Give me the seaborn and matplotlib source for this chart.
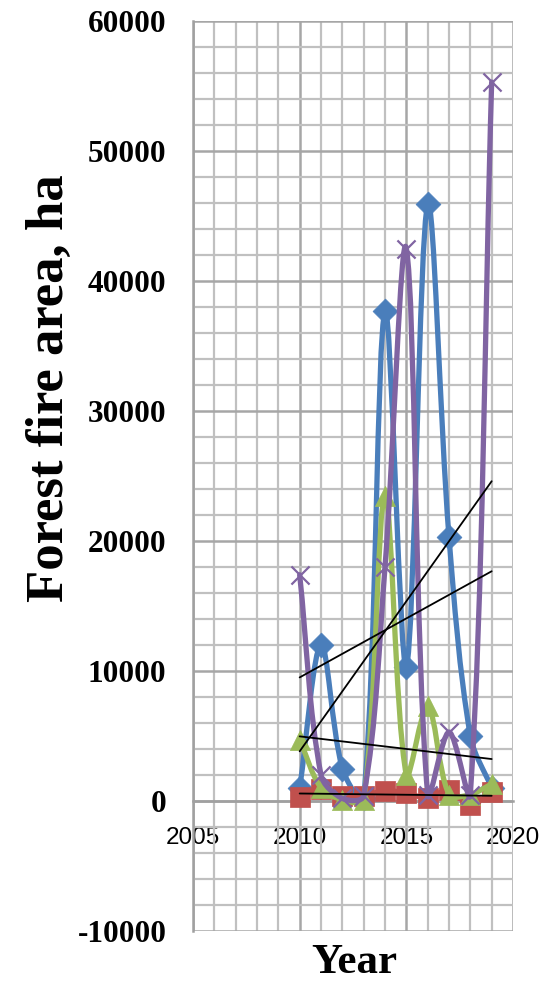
import numpy as np
import pandas as pd
import matplotlib
matplotlib.use("Agg")
import matplotlib.pyplot as plt
from matplotlib.path import Path
from matplotlib.patches import PathPatch
import seaborn as sns

years = [2010, 2011, 2012, 2013, 2014, 2015, 2016, 2017, 2018, 2019]
blue_vals = [1000, 12000, 2500, 200, 37700, 10300, 45900, 20300, 5000, 1000]
red_vals = [300, 900, 400, 400, 800, 600, 250, 850, -300, 700]
green_vals = [4700, 1000, 100, 100, 23500, 2000, 7300, 500, 500, 1300]
purple_vals = [17400, 2000, 200, 400, 18000, 42500, 500, 5300, 500, 55300]

x_ticks = [2005, 2010, 2015, 2020]
y_ticks = [-10000, 0, 10000, 20000, 30000, 40000, 50000, 60000]

series = [
    ("blue", blue_vals, "#4A7EBB", "D", 160),
    ("red", red_vals, "#C0504D", "s", 210),
    ("green", green_vals, "#9BBB59", "^", 210),
    ("purple", purple_vals, "#8064A2", "x", 170),
]

df = pd.DataFrame({"year": years * 4,
                   "value": blue_vals + red_vals + green_vals + purple_vals,
                   "series": sum([[s[0]] * len(years) for s in series], [])})

sns.set_style("white")
plt.rcParams["axes.unicode_minus"] = False
plt.rcParams["text.color"] = "black"
fig = plt.figure(figsize=(5.43, 9.82), dpi=100)
ax = fig.add_axes([193 / 543, 1 - 931 / 982, 320 / 543, 910 / 982])

# pixel scale of the axes (for Excel-like smoothing weights)
SX = 320 / 15.0
SY = 910 / 70000.0


def smooth_path(xs, ys):
    xs = np.asarray(xs, float)
    ys = np.asarray(ys, float)
    n = len(xs)
    pts = [np.array([xs[i], ys[i]]) for i in range(n)]

    def d(a, b):
        return np.hypot((a[0] - b[0]) * SX, (a[1] - b[1]) * SY)

    verts = [tuple(pts[0])]
    codes = [Path.MOVETO]
    for i in range(n - 1):
        p0 = pts[max(i - 1, 0)]
        p1 = pts[i]
        p2 = pts[i + 1]
        p3 = pts[min(i + 2, n - 1)]
        d01, d12, d23 = d(p0, p1), d(p1, p2), d(p2, p3)
        f1 = d12 / (d01 + d12) / 3.0 if (d01 + d12) > 0 else 0
        f2 = d12 / (d12 + d23) / 3.0 if (d12 + d23) > 0 else 0
        c1 = p1 + (p2 - p0) * f1
        c2 = p2 - (p3 - p1) * f2
        verts += [tuple(c1), tuple(c2), tuple(p2)]
        codes += [Path.CURVE4] * 3
    return Path(verts, codes)


z = 3
for name, vals, color, marker, size in series:
    patch = PathPatch(smooth_path(years, vals), facecolor="none", edgecolor=color,
                      lw=3.8, zorder=z, capstyle="round", joinstyle="round")
    ax.add_patch(patch)
    sub = df[df["series"] == name]
    if marker == "x":
        sns.scatterplot(data=sub, x="year", y="value", marker="x", s=size,
                        color="#8064A2", linewidth=1.6, ax=ax, zorder=z + 1,
                        legend=False)
    else:
        sns.scatterplot(data=sub, x="year", y="value", marker=marker, s=size,
                        color=color, edgecolor=color, linewidth=0.5, ax=ax,
                        zorder=z + 1, legend=False)
    z += 2

for name, vals, color, marker, size in series:
    sub = df[df["series"] == name]
    sns.regplot(data=sub, x="year", y="value", scatter=False, ci=None,
                truncate=True, line_kws={"color": "black", "lw": 1.3,
                                         "zorder": 20}, ax=ax)

ax.set_xlim(2005, 2020)
ax.set_ylim(-10000, 60000)
ax.set_xticks(x_ticks)
ax.set_yticks(y_ticks)
ax.set_xticks(np.arange(2005, 2021, 1), minor=True)
ax.set_yticks(np.arange(-10000, 60001, 2000), minor=True)
ax.grid(which="minor", color="#C0C0C0", lw=1.6, zorder=0)
ax.grid(which="major", color="#A6A6A6", lw=1.8, zorder=0)
ax.set_axisbelow(True)

for s in ["top", "right"]:
    ax.spines[s].set_visible(False)
ax.spines["left"].set_color("#A0A0A0")
ax.spines["left"].set_linewidth(1.8)
ax.spines["bottom"].set_position(("data", 0))
ax.spines["bottom"].set_color("#A0A0A0")
ax.spines["bottom"].set_linewidth(1.8)

ax.tick_params(axis="y", which="major", length=7, width=1.6, color="#A0A0A0",
               pad=12, direction="out", labelcolor="black")
ax.tick_params(axis="y", which="minor", length=0)
ax.tick_params(axis="x", which="both", length=0, pad=19, labelcolor="black")

for lab in ax.get_yticklabels():
    lab.set_fontfamily("Liberation Serif")
    lab.set_fontweight("bold")
    lab.set_fontsize(22.5)
for lab in ax.get_xticklabels():
    lab.set_fontfamily("Liberation Sans")
    lab.set_fontsize(17.5)
    lab.set_clip_on(False)

ax.set_xlabel("")
ax.set_ylabel("")
fig.text(50 / 543, 1 - 388 / 982, "Forest fire area, ha", rotation=90,
         ha="center", va="center", fontfamily="Liberation Serif",
         fontweight="bold", fontsize=38, color="black")
fig.text(354 / 543, 1 - 963 / 982, "Year", ha="center", va="center",
         fontfamily="Liberation Serif", fontweight="bold", fontsize=31,
         color="black")

fig.savefig("out.png", dpi=100)
